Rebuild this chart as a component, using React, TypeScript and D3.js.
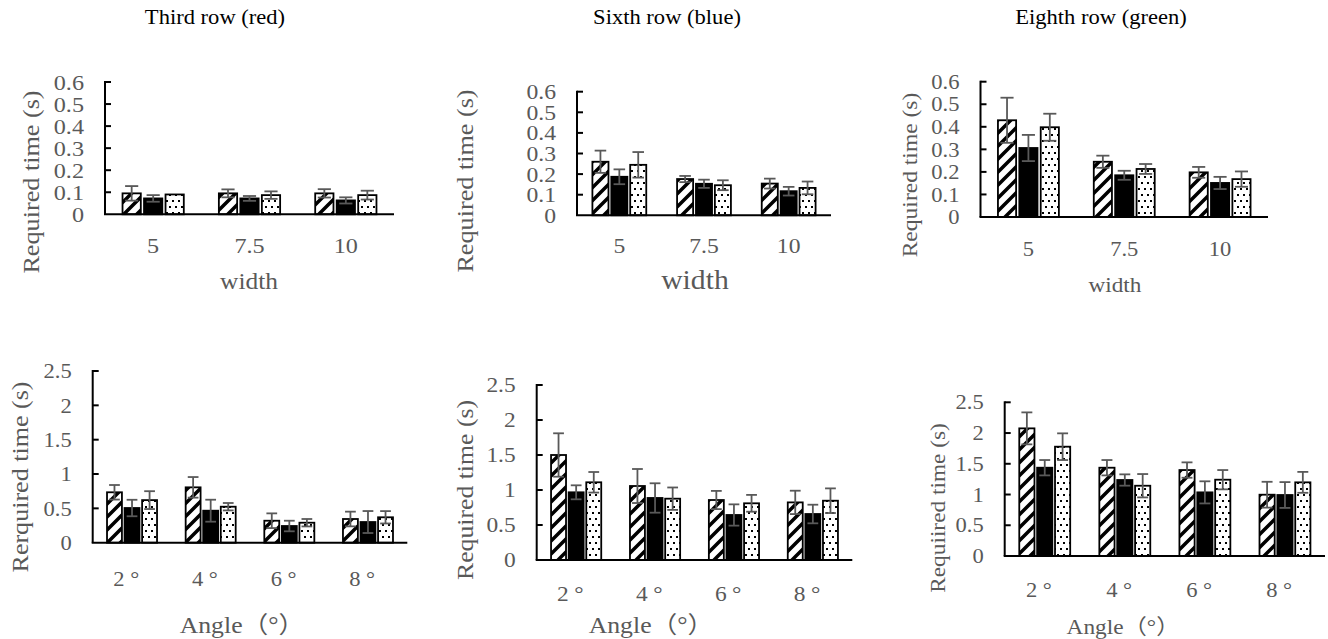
import { useEffect, useRef } from "react";
import * as d3 from "d3";

// categories and ticks
const widthCats = ["5", "7.5", "10"];
const angleCats = ["2°", "4°", "6°", "8°"];
const seriesKeys = ["hatch", "solid", "dot"];
const widthTicks = [0, 0.1, 0.2, 0.3, 0.4, 0.5, 0.6];
const widthTickLabels = ["0", "0.1", "0.2", "0.3", "0.4", "0.5", "0.6"];
const angleTicks = [0, 0.5, 1, 1.5, 2, 2.5];
const angleTickLabels = ["0", "0.5", "1", "1.5", "2", "2.5"];

// means / errors, one row per series (hatch, solid, dot)
const thirdWidthMeans = [
  [0.095, 0.095, 0.095],
  [0.072, 0.072, 0.063],
  [0.09, 0.087, 0.087],
];
const thirdWidthErrs = [
  [0.033, 0.018, 0.019],
  [0.015, 0.011, 0.014],
  [0, 0.017, 0.02],
];
const sixthWidthMeans = [
  [0.26, 0.176, 0.154],
  [0.187, 0.153, 0.117],
  [0.245, 0.146, 0.133],
];
const sixthWidthErrs = [
  [0.054, 0.015, 0.024],
  [0.036, 0.02, 0.021],
  [0.062, 0.024, 0.031],
];
const eighthWidthMeans = [
  [0.429, 0.245, 0.198],
  [0.306, 0.185, 0.151],
  [0.398, 0.213, 0.168],
];
const eighthWidthErrs = [
  [0.1, 0.027, 0.024],
  [0.058, 0.02, 0.027],
  [0.06, 0.022, 0.034],
];
const thirdAngleMeans = [
  [0.734, 0.806, 0.32, 0.345],
  [0.505, 0.466, 0.243, 0.301],
  [0.62, 0.524, 0.291, 0.37],
];
const thirdAngleErrs = [
  [0.106, 0.15, 0.107, 0.107],
  [0.12, 0.16, 0.077, 0.16],
  [0.13, 0.054, 0.054, 0.09],
];
const sixthAngleMeans = [
  [1.5, 1.057, 0.857, 0.823],
  [0.967, 0.886, 0.643, 0.657],
  [1.11, 0.876, 0.81, 0.847],
];
const sixthAngleErrs = [
  [0.31, 0.243, 0.13, 0.167],
  [0.1, 0.21, 0.152, 0.133],
  [0.147, 0.16, 0.12, 0.176],
];
const eighthAngleMeans = [
  [2.076, 1.436, 1.398, 0.997],
  [1.436, 1.236, 1.035, 0.992],
  [1.778, 1.143, 1.241, 1.198],
];
const eighthAngleErrs = [
  [0.26, 0.125, 0.125, 0.21],
  [0.125, 0.092, 0.18, 0.21],
  [0.217, 0.19, 0.157, 0.17],
];

const gray = "#595959";
const serif = "Liberation Serif, Times New Roman, Noto Sans CJK JP, serif";
const stretch = 1.1; // reference font is wider than Times

const panels = [
  {
    title: "Third row (red)", cats: widthCats, ticks: widthTicks, tickLabels: widthTickLabels,
    means: thirdWidthMeans, errs: thirdWidthErrs, yTitle: "Required time (s)", xTitle: "width",
    L: { x0: 105, x1: 394, yTop: 82, yZero: 214.3, titleX: 215, yTitleX: 34, yTitleY: 182, yTitleSize: 23.8,
      xTickY: 245, xTitleX: 249, xTitleY: 289, xTitleSize: 23.1, tickSize: 22 },
  },
  {
    title: "Sixth row (blue)", cats: widthCats, ticks: widthTicks, tickLabels: widthTickLabels,
    means: sixthWidthMeans, errs: sixthWidthErrs, yTitle: "Required time (s)", xTitle: "width",
    L: { x0: 577, x1: 831, yTop: 91.7, yZero: 215.3, titleX: 667, yTitleX: 468, yTitleY: 181, yTitleSize: 23.8,
      xTickY: 245, xTitleX: 695, xTitleY: 289, xTitleSize: 27, tickSize: 21.5 },
  },
  {
    title: "Eighth row (green)", cats: widthCats, ticks: widthTicks, tickLabels: widthTickLabels,
    means: eighthWidthMeans, errs: eighthWidthErrs, yTitle: "Required time (s)", xTitle: "width",
    L: { x0: 980.5, x1: 1268, yTop: 81.7, yZero: 217, titleX: 1101, yTitleX: 912, yTitleY: 175, yTitleSize: 21.4,
      xTickY: 249, xTitleX: 1115, xTitleY: 292, xTitleSize: 21.1, tickSize: 20.5 },
  },
  {
    title: "", cats: angleCats, ticks: angleTicks, tickLabels: angleTickLabels,
    means: thirdAngleMeans, errs: thirdAngleErrs, yTitle: "Rerquired time (s)", xTitle: "Angle（°）",
    L: { x0: 92.7, x1: 407.3, yTop: 371, yZero: 542.7, titleX: 0, yTitleX: 22.5, yTitleY: 477, yTitleSize: 23.7,
      xTickY: 579, xTitleX: 242, xTitleY: 633, xTitleSize: 23.4, tickSize: 20.5 },
  },
  {
    title: "", cats: angleCats, ticks: angleTicks, tickLabels: angleTickLabels,
    means: sixthAngleMeans, errs: sixthAngleErrs, yTitle: "Required time (s)", xTitle: "Angle（°）",
    L: { x0: 536.7, x1: 852.3, yTop: 385, yZero: 560, titleX: 0, yTitleX: 468, yTitleY: 490, yTitleSize: 23.4,
      xTickY: 594, xTitleX: 651, xTitleY: 633, xTitleSize: 23.4, tickSize: 21.3 },
  },
  {
    title: "", cats: angleCats, ticks: angleTicks, tickLabels: angleTickLabels,
    means: eighthAngleMeans, errs: eighthAngleErrs, yTitle: "Requiired time (s)", xTitle: "Angle（°）",
    L: { x0: 1004.7, x1: 1325, yTop: 402.3, yZero: 556, titleX: 0, yTitleX: 940, yTitleY: 508, yTitleSize: 21.2,
      xTickY: 590, xTitleX: 1123, xTitleY: 634, xTitleSize: 21.2, tickSize: 20.5 },
  },
];

const fills = { hatch: "url(#hatch)", solid: "black", dot: "url(#dots)" };

const drawPanel = (svg, p) => {
  const L = p.L;
  const g = svg.append("g").attr("font-family", serif);

  const x = d3.scaleBand().domain(p.cats).range([L.x0, L.x1]);
  const y = d3
    .scaleLinear()
    .domain([0, p.ticks[p.ticks.length - 1]])
    .range([L.yZero, L.yTop]);
  const groupW = x.bandwidth() * 0.636;
  const xs = d3.scaleBand().domain(seriesKeys).range([0, groupW]).paddingInner(0.15);

  // panel title
  if (p.title) {
    g.append("text")
      .attr("class", "stretch")
      .attr("x", L.titleX)
      .attr("y", 24)
      .attr("text-anchor", "middle")
      .attr("font-size", 20.5)
      .attr("fill", "black")
      .text(p.title);
  }

  // bars
  const rows = [];
  seriesKeys.forEach((key, si) => {
    p.cats.forEach((c, ci) => {
      rows.push({ key, c, v: p.means[si][ci], e: p.errs[si][ci] });
    });
  });
  const bx = (d) => x(d.c) + (x.bandwidth() - groupW) / 2 + xs(d.key);

  g.selectAll("rect.bar")
    .data(rows)
    .enter()
    .append("rect")
    .attr("class", "bar")
    .attr("x", bx)
    .attr("y", (d) => y(d.v))
    .attr("width", xs.bandwidth())
    .attr("height", (d) => y(0) - y(d.v))
    .attr("fill", (d) => fills[d.key])
    .attr("stroke", "black")
    .attr("stroke-width", 1.8);

  // error bars
  const cap = xs.bandwidth() * 0.36;
  const eb = g
    .selectAll("g.err")
    .data(rows.filter((d) => d.e > 0))
    .enter()
    .append("g")
    .attr("stroke", gray)
    .attr("stroke-width", 1.8);
  eb.append("line")
    .attr("x1", (d) => bx(d) + xs.bandwidth() / 2)
    .attr("x2", (d) => bx(d) + xs.bandwidth() / 2)
    .attr("y1", (d) => y(d.v - d.e))
    .attr("y2", (d) => y(d.v + d.e));
  eb.append("line")
    .attr("x1", (d) => bx(d) + xs.bandwidth() / 2 - cap)
    .attr("x2", (d) => bx(d) + xs.bandwidth() / 2 + cap)
    .attr("y1", (d) => y(d.v + d.e))
    .attr("y2", (d) => y(d.v + d.e));
  eb.append("line")
    .attr("x1", (d) => bx(d) + xs.bandwidth() / 2 - cap)
    .attr("x2", (d) => bx(d) + xs.bandwidth() / 2 + cap)
    .attr("y1", (d) => y(d.v - d.e))
    .attr("y2", (d) => y(d.v - d.e));

  // y axis line + inside ticks
  g.append("line")
    .attr("x1", L.x0)
    .attr("x2", L.x0)
    .attr("y1", y(0))
    .attr("y2", y.range()[1] - 1)
    .attr("stroke", "black")
    .attr("stroke-width", 2);
  g.selectAll("line.ytick")
    .data(p.ticks.slice(1))
    .enter()
    .append("line")
    .attr("x1", L.x0)
    .attr("x2", L.x0 + 6)
    .attr("y1", (d) => y(d))
    .attr("y2", (d) => y(d))
    .attr("stroke", "black")
    .attr("stroke-width", 2);

  // x axis line
  g.append("line")
    .attr("x1", L.x0 - 1)
    .attr("x2", L.x1)
    .attr("y1", y(0))
    .attr("y2", y(0))
    .attr("stroke", "black")
    .attr("stroke-width", 2);

  // y tick labels
  g.selectAll("text.ytl")
    .data(p.ticks)
    .enter()
    .append("text")
    .attr("class", "stretch")
    .attr("font-family", serif)
    .attr("x", L.x0 - 21)
    .attr("y", (d) => y(d))
    .attr("dy", "0.35em")
    .attr("text-anchor", "end")
    .attr("font-size", L.tickSize)
    .attr("fill", gray)
    .text((d, i) => p.tickLabels[i]);

  // x tick labels
  const deg = p.cats[0].includes("°");
  g.selectAll("text.xtl")
    .data(p.cats)
    .enter()
    .append("text")
    .attr("class", "stretch")
    .attr("font-family", serif)
    .attr("x", (d) => x(d) + x.bandwidth() / 2 - (deg ? 3 : 0))
    .attr("y", L.xTickY)
    .attr("dy", "0.35em")
    .attr("text-anchor", "middle")
    .attr("letter-spacing", deg ? 5 : 0)
    .attr("font-size", L.tickSize)
    .attr("fill", gray)
    .text((d) => d);

  // axis titles
  g.append("text")
    .attr("class", "stretch")
    .attr("font-family", serif)
    .attr("transform", `translate(${L.yTitleX},${L.yTitleY}) rotate(-90)`)
    .attr("dy", "0.22em")
    .attr("text-anchor", "middle")
    .attr("font-size", L.yTitleSize)
    .attr("fill", gray)
    .text(p.yTitle);

  g.append("text")
    .attr("class", "stretch")
    .attr("font-family", serif)
    .attr("x", L.xTitleX)
    .attr("y", L.xTitleY)
    .attr("text-anchor", "middle")
    .attr("font-size", L.xTitleSize)
    .attr("fill", gray)
    .text(p.xTitle);
};

const App = () => {
  const svgRef = useRef(null);

  useEffect(() => {
    const svg = d3.select(svgRef.current);
    svg.selectAll("*").remove();

    // fill patterns
    const defs = svg.append("defs");
    const hatch = defs
      .append("pattern")
      .attr("id", "hatch")
      .attr("patternUnits", "userSpaceOnUse")
      .attr("width", 13)
      .attr("height", 13);
    hatch.append("rect").attr("width", 13).attr("height", 13).attr("fill", "white");
    hatch
      .append("path")
      .attr("d", "M-3,3 L3,-3 M0,13 L13,0 M10,16 L16,10")
      .attr("stroke", "black")
      .attr("stroke-width", 3.5);

    const dots = defs
      .append("pattern")
      .attr("id", "dots")
      .attr("patternUnits", "userSpaceOnUse")
      .attr("width", 6)
      .attr("height", 12);
    dots.append("rect").attr("width", 6).attr("height", 12).attr("fill", "white");
    dots.append("rect").attr("x", 1).attr("y", 2).attr("width", 2).attr("height", 2).attr("fill", "black");
    dots.append("rect").attr("x", 4).attr("y", 8).attr("width", 2).attr("height", 2).attr("fill", "black");

    panels.forEach((p) => drawPanel(svg, p));

    // widen glyphs a little to match the reference typeface
    svg.selectAll("text.stretch").each(function () {
      const len = this.getComputedTextLength();
      if (len > 0) {
        d3.select(this)
          .attr("textLength", len * stretch)
          .attr("lengthAdjust", "spacingAndGlyphs");
      }
    });
  }, []);

  return (
    <svg
      ref={svgRef}
      width={1328}
      height={639}
      style={{ position: "absolute", left: 0, top: 0, background: "white" }}
    ></svg>
  );
};

export default App;
